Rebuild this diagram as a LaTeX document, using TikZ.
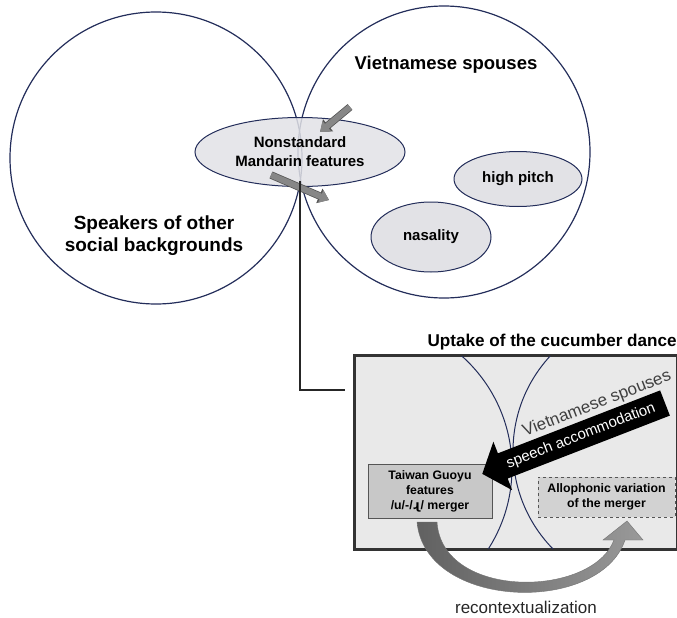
\documentclass[tikz,border=0pt]{standalone}
\usepackage{fontspec}
\setmainfont{Liberation Sans}
\newfontfamily\ipafont{DejaVu Sans}
\usetikzlibrary{positioning,calc,arrows,arrows.meta,shapes.geometric}

\definecolor{navy}{RGB}{35,45,90}
\definecolor{featgray}{RGB}{226,226,230}
\definecolor{boxgray}{RGB}{233,233,233}
\definecolor{gygray}{RGB}{200,200,200}
\definecolor{allogray}{RGB}{210,210,210}
\definecolor{edgegray}{RGB}{85,85,85}
\definecolor{arrgray}{RGB}{135,135,135}

\begin{document}
\begin{tikzpicture}[x=1pt,y=-1pt]
	\useasboundingbox (0,0) rectangle (677,618);
	\tikzstyle{every node}=[align=center, inner sep=1pt]
	\tikzstyle{venn}=[circle, draw=navy, line width=1.2pt, minimum size=292pt]
	\tikzstyle{feat}=[ellipse, draw=navy, line width=1pt, fill=featgray,
		font=\fontsize{15}{19}\selectfont\bfseries]
	\tikzstyle{biglabel}=[font=\fontsize{19}{22}\selectfont\bfseries]
	\tikzstyle{smallbox}=[draw=edgegray, line width=0.9pt,
		font=\fontsize{12.3}{15}\selectfont\bfseries]
	\tikzstyle{blockarrow}=[line width=6pt, draw=arrgray,
		-{Triangle[width=13pt,length=9pt]},
		preaction={draw=edgegray, line width=7.5pt, -{Triangle[width=15pt,length=10.5pt]}}]

	% the two speaker groups
	\node[venn] (others) at (156,158) {};
	\node[venn] (viet)   at (444,152) {};

	\node[biglabel, font=\fontsize{18.5}{22}\selectfont\bfseries] (vietlab) at (446,65) {Vietnamese spouses};
	\node[biglabel] (otherlab) at (154,236) {Speakers of other\\social backgrounds};

	\node[feat, fill opacity=0.85, text opacity=1, minimum width=210pt, minimum height=69pt] (nonstd) at (300,152) {Nonstandard\\Mandarin features};
	\node[feat, minimum width=128pt, minimum height=55pt] (pitch) at (518,179) {high pitch};
	\node[feat, minimum width=120pt, minimum height=70pt] (nasal) at (431,237) {nasality};

	\coordinate (in1)  at (350,107);
	\coordinate (in1e) at (320,132);
	\coordinate (out1)  at (271,175);
	\coordinate (out1e) at (329,200);
	\draw [blockarrow] (in1) to (in1e);
	\draw [blockarrow] (out1) to (out1e);

	% link down to the zoomed box
	\coordinate (tang)    at (300,181);
	\coordinate (bend)    at (300,390);
	\coordinate (lineend) at (345,390);
	\draw [line width=1.8pt, draw=black!85] (tang) -- (bend) -- (lineend);

	\node[draw=black!80, line width=1.8pt, fill=boxgray, minimum width=322pt, minimum height=193pt, anchor=north west, inner sep=0pt] (uptake) at (354,355) {};
	\begin{scope}
		\clip (354,355) rectangle (677,548);
		\draw [navy, line width=1pt] (362,468) circle (150);
		\draw [navy, line width=1pt] (653,451) circle (140);
	\end{scope}
	\draw [black!80, line width=1.8pt] (uptake.north west) rectangle (uptake.south east);
	\node[anchor=south east, font=\fontsize{17.1}{20}\selectfont\bfseries, inner sep=0pt] (title) at ($(uptake.north east)+(-1,-5)$) {Uptake of the cucumber dance};

	\node[smallbox, fill=gygray, minimum width=124pt, minimum height=54pt] (guoyu) at (430,491) {Taiwan Guoyu\\features\\/u/-/{\ipafont\bfseries ɻ}/ merger};
	\node[smallbox, dashed, fill=allogray, minimum width=137pt, minimum height=40pt] (allo) at (606.5,497) {Allophonic variation\\of the merger};

	% accommodation arrow
	\begin{scope}[shift={(665,403)}, rotate=201.2]
		\fill[black] (0,-13.5) -- (174,-13.5) -- (174,-26) -- (196,0) -- (174,26) -- (174,13.5) -- (0,13.5) -- cycle;
	\end{scope}
	\node[rotate=21.2, text=white, font=\fontsize{15}{17}\selectfont] (accom) at (581,436) {speech accommodation};
	\node[rotate=21.2, text=black!75, font=\fontsize{17}{19}\selectfont] (vietlab2) at (597,404) {Vietnamese spouses};

	% recontextualization arrow
	\shade[left color=black!62, right color=black!40, draw=black!55, line width=0.4pt]
		(417,522) .. controls (425,610) and (600,615) .. (625,540)
		-- (643,540) -- (627,521) -- (603,540) -- (614,540)
		.. controls (592,598) and (442,600) .. (437,522) -- cycle;
	\node[font=\fontsize{17}{19}\selectfont, text=black!85] (recon) at (526,607) {recontextualization};
\end{tikzpicture}
\end{document}
